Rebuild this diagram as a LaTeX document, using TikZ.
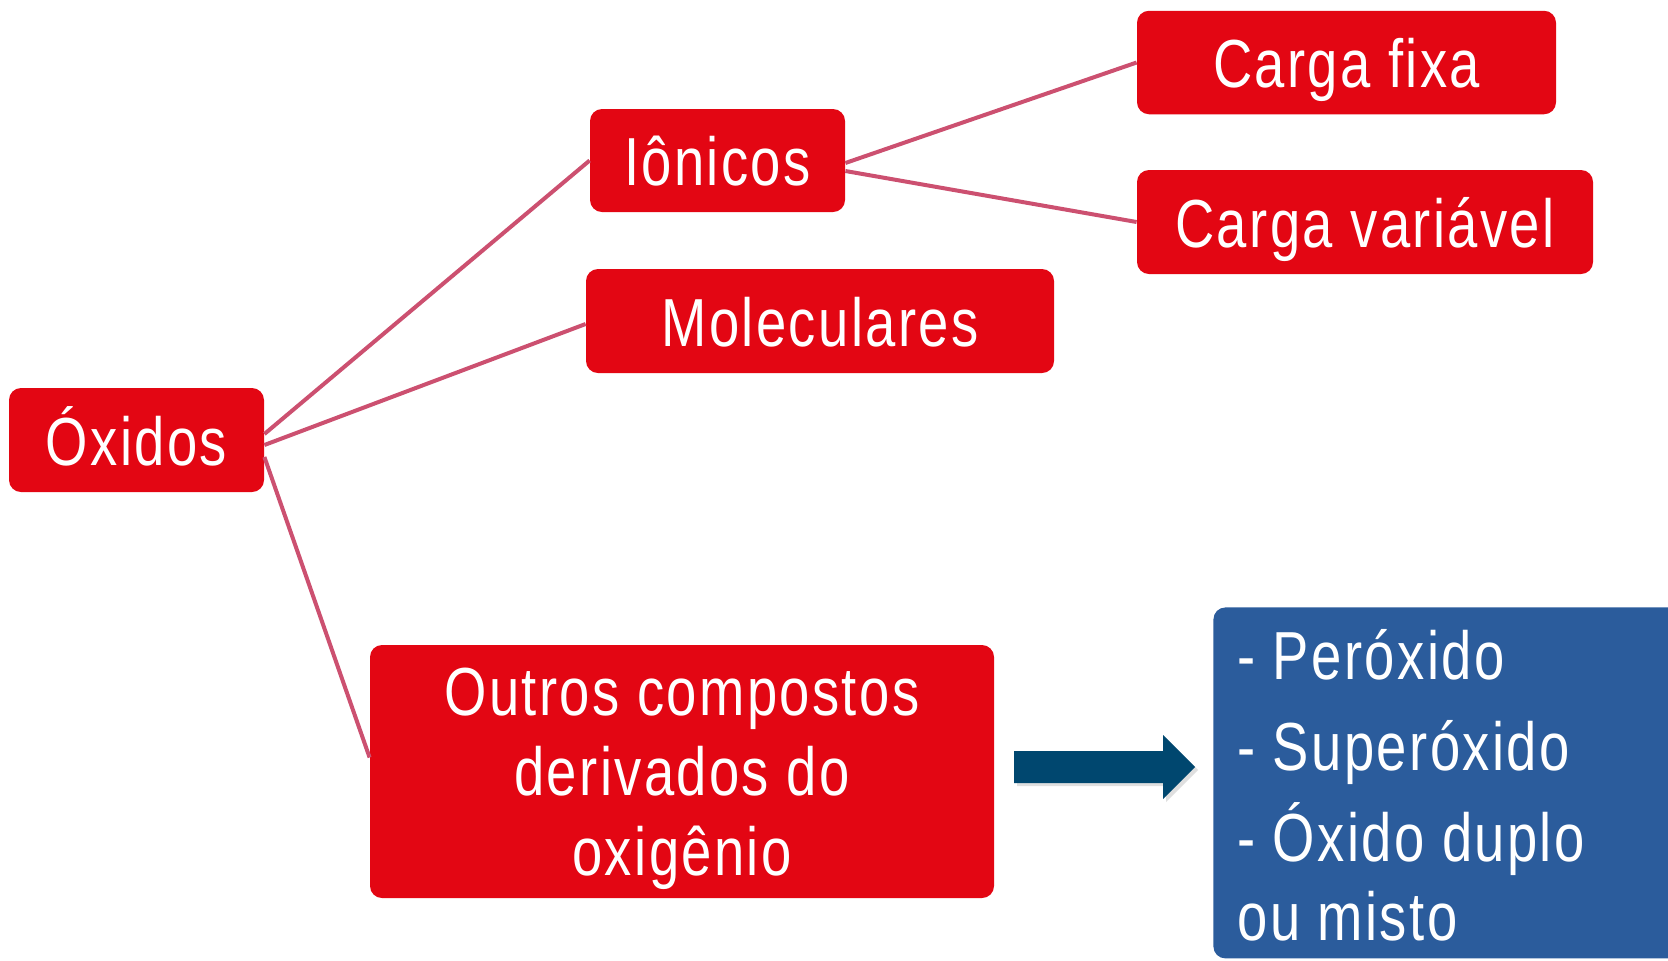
\documentclass[tikz,border=0pt]{standalone}
\usepackage{fontspec}
\setmainfont{Liberation Sans}[FakeStretch=0.8,LetterSpace=3.5]
\usetikzlibrary{calc,shadows}
\definecolor{boxred}{HTML}{E30613}
\definecolor{boxblue}{HTML}{2B5C9C}
\definecolor{arrowblue}{HTML}{00476F}
\definecolor{linkpink}{HTML}{CC5070}
\begin{document}
\begin{tikzpicture}[x=0.5pt,y=-0.5pt,
  redbox/.style={fill=boxred, rounded corners=6pt, text=white, inner sep=0pt,
    font=\fontsize{34}{40}\selectfont, align=center},
  oneline/.style={text height=25pt, text depth=0pt},
  link/.style={draw=linkpink, line width=2pt},
  bigarrow/.style={fill=arrowblue, drop shadow={shadow xshift=1.5pt, shadow yshift=-1.5pt, opacity=0.25}}]
\useasboundingbox (0,0) rectangle (1668,960);
\clip (0,0) rectangle (1668,960);
% boxes
\node[redbox, oneline, minimum width=127.5pt, minimum height=52pt] (oxidos) at (136.5,440) {Óxidos};
\node[redbox, oneline, minimum width=127.5pt, minimum height=51.5pt] (ionicos) at (717.5,160.5) {Iônicos};
\node[redbox, oneline, minimum width=234pt, minimum height=52pt] (moleculares) at (820,321) {Moleculares};
\node[redbox, oneline, minimum width=209.5pt, minimum height=51.75pt] (fixa) at (1346.5,62.5) {Carga fixa};
\node[redbox, oneline, minimum width=228pt, minimum height=52pt] (variavel) at (1365,222) {Carga variável};
\node[redbox, minimum width=312pt, minimum height=126.5pt] (outros) at (682,771.5)
  {\rule{0pt}{31.5pt}Outros compostos\\derivados do\\oxigênio};
% blue box
\node[fill=boxblue, rounded corners=6pt, anchor=north west, inner sep=0pt,
  minimum width=243.5pt, minimum height=175.5pt] (tipos) at (1213,607) {};
\node[anchor=north west, align=left, text=white, inner sep=0pt,
  font=\fontsize{34}{39.5}\selectfont] (tiposlista) at (1237,629)
  {- Peróxido\\[6pt]- Superóxido\\[6pt]- Óxido duplo\\ou misto};
% arrow
\coordinate (a1) at (1014,751);
\fill[bigarrow] (a1) -- (1163,751) -- (1163,735) -- (1195,767) -- (1163,799) -- (1163,783) -- (1014,783) -- cycle;
% connectors
\draw[link] ($(oxidos.east)+(0,-6)$) -- (ionicos.west);
\draw[link] ($(oxidos.east)+(0,5)$) -- ($(moleculares.west)+(0,3)$);
\draw[link] ($(oxidos.east)+(0,17)$) -- ($(outros.west)+(0,-14)$);
\draw[link] ($(ionicos.east)+(0,2.5)$) -- (fixa.west);
\draw[link] ($(ionicos.east)+(0,10.5)$) -- (variavel.west);
\end{tikzpicture}
\end{document}
